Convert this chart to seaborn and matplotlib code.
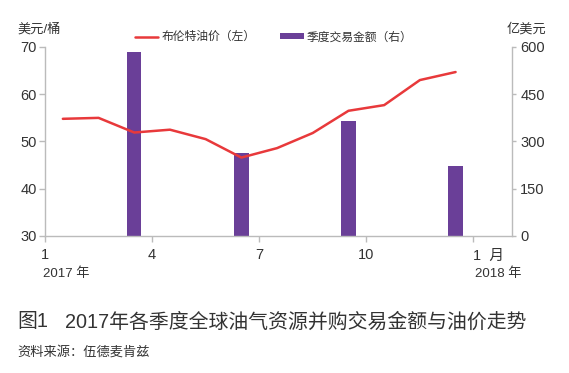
import matplotlib
matplotlib.use("Agg")
import matplotlib.pyplot as plt
import seaborn as sns
import pandas as pd
from matplotlib.lines import Line2D
from matplotlib.patches import Patch

sns.set_theme(style="white")
plt.rcParams['font.family'] = ['Liberation Sans', 'Noto Sans CJK SC', 'DejaVu Sans']

# data
months = [1, 2, 3, 4, 5, 6, 7, 8, 9, 10, 11, 12]
brent = [54.8, 55.0, 51.9, 52.5, 50.5, 46.6, 48.6, 51.8, 56.5, 57.7, 63.0, 64.7]
quarter_months = [3, 6, 9, 12]
deal_value = [583, 262, 364, 222]
xtick_months = [1, 4, 7, 10, 13]
xtick_labels = ["1", "4", "7", "10", "1  月"]

line_color = "#E8393B"
bar_color = "#6A3F98"
spine_color = "#BBBBBB"
text_color = "#333333"

fig = plt.figure(figsize=(5.69, 3.73), dpi=100)
ax = fig.add_axes([0.0791, 0.3673, 0.8207, 0.5067])
ax2 = ax.twinx()

df_line = pd.DataFrame({"x": [m - 0.5 for m in months], "y": brent})
df_bar = pd.DataFrame({"x": [m - 0.5 for m in quarter_months], "y": deal_value})

sns.barplot(data=df_bar, x="x", y="y", ax=ax2, native_scale=True,
            color=bar_color, saturation=1, width=0.4 / 3, edgecolor="none")
sns.lineplot(data=df_line, x="x", y="y", ax=ax, color=line_color, linewidth=1.8)

ax.set_zorder(ax2.get_zorder() + 1)
ax.patch.set_visible(False)

ax.set_xlim(0, 13.08)
ax2.set_xlim(0, 13.08)
ax.set_ylim(30, 70)
ax2.set_ylim(0, 600)
ax.set_yticks([30, 40, 50, 60, 70])
ax2.set_yticks([0, 150, 300, 450, 600])
ax.set_xticks([m - 1 for m in xtick_months])
ax.set_xticklabels(xtick_labels)
ax.get_xticklabels()[-1].set_horizontalalignment("left")
ax.set_xlabel("")
ax.set_ylabel("")
ax2.set_xlabel("")
ax2.set_ylabel("")

for a in (ax, ax2):
    for s in a.spines.values():
        s.set_color(spine_color)
        s.set_linewidth(1.0)
    a.spines["top"].set_visible(False)
ax.spines["right"].set_visible(False)
ax2.spines["left"].set_visible(False)
ax2.spines["bottom"].set_visible(False)

ax.tick_params(axis="y", left=True, length=4, width=1, color=spine_color,
               labelsize=10.5, labelcolor=text_color, pad=2)
ax.tick_params(axis="x", bottom=True, length=4, width=1, color=spine_color,
               labelsize=10.5, labelcolor=text_color, pad=5)
ax2.tick_params(axis="y", right=True, length=3, width=1, color=spine_color,
                labelsize=10.5, labelcolor=text_color, pad=3)

fig.text(0.03, 0.922, "美元/桶", fontsize=9.5, color=text_color, va="center")
fig.text(0.961, 0.922, "亿美元", fontsize=9.5, color=text_color, va="center", ha="right")
fig.text(0.116, 0.265, "2017 年", fontsize=9.5, color=text_color, va="center", ha="center")
fig.text(0.875, 0.265, "2018 年", fontsize=9.5, color=text_color, va="center", ha="center")

handles = [Line2D([0], [0], color=line_color, lw=1.8),
           Patch(facecolor=bar_color, edgecolor="none")]
leg = fig.legend(handles, ["布伦特油价（左）", "季度交易金额（右）"],
                 loc="center", bbox_to_anchor=(0.481, 0.9), ncol=2, frameon=False,
                 fontsize=8.5, handlelength=2.0, handleheight=0.45, handletextpad=0.25,
                 columnspacing=2.1)
for t in leg.get_texts():
    t.set_color(text_color)

fig.text(0.03, 0.137, "图1", fontsize=14.3, color=text_color, va="center")
fig.text(0.114, 0.137, "2017年各季度全球油气资源并购交易金额与油价走势",
         fontsize=14.3, color=text_color, va="center")
fig.text(0.03, 0.056, "资料来源：伍德麦肯兹", fontsize=9.5, color=text_color, va="center")

fig.savefig("out.png", dpi=100)
